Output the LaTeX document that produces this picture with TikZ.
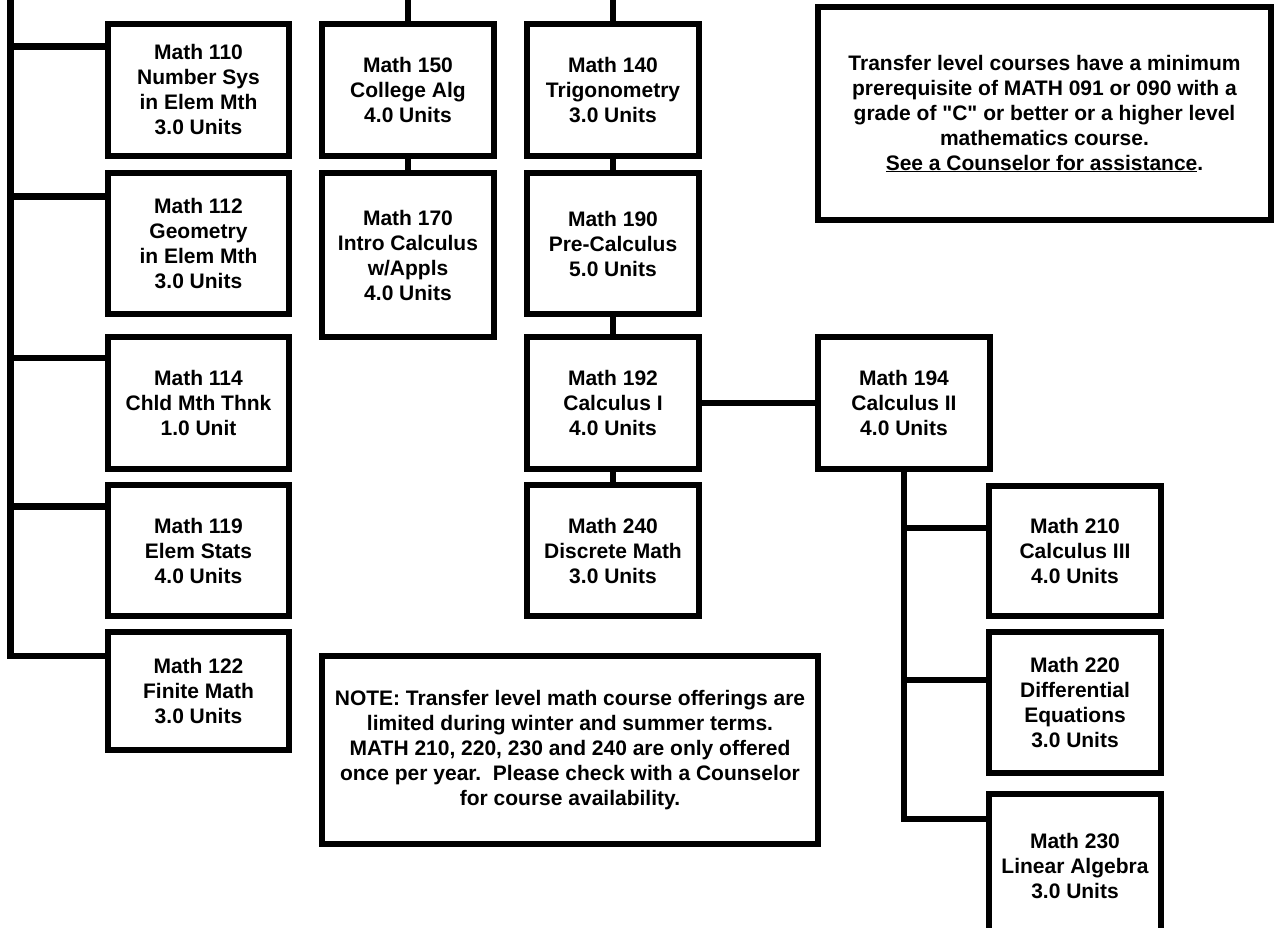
\documentclass[tikz,border=0pt]{standalone}
\usepackage{fontspec}
\setmainfont{Liberation Sans}
\usetikzlibrary{positioning}

\begin{document}
\begin{tikzpicture}[x=1pt,y=-1pt]
\tikzset{course/.style={draw, line width=6pt, inner sep=0pt, align=center, minimum width=172pt, minimum height=132pt, font=\fontsize{21}{25}\selectfont\bfseries}}
\tikzset{link/.style={line width=6.5pt, line join=miter}}

\clip (0,0) rectangle (1274,927);

% left column
\node[course, minimum width=181pt] (m110) at (198.5,90) {Math 110\\Number Sys\\in Elem Mth\\3.0 Units};
\node[course, minimum width=181pt, minimum height=141pt] (m112) at (198.5,243.5) {Math 112\\Geometry\\in Elem Mth\\3.0 Units};
\node[course, minimum width=181pt] (m114) at (198.5,403) {Math 114\\Chld Mth Thnk\\1.0 Unit};
\node[course, minimum width=181pt, minimum height=131pt] (m119) at (198.5,550.5) {Math 119\\Elem Stats\\4.0 Units};
\node[course, minimum width=181pt, minimum height=118pt] (m122) at (198.5,691) {Math 122\\Finite Math\\3.0 Units};

% algebra and calculus columns
\node[course] (m150) at (408,90) {Math 150\\College Alg\\4.0 Units};
\node[course, minimum height=164pt] (m170) at (408,255) {Math 170\\Intro Calculus\\w/Appls\\4.0 Units};
\node[course] (m140) at (613,90) {Math 140\\Trigonometry\\3.0 Units};
\node[course, minimum height=141pt] (m190) at (613,243.5) {Math 190\\Pre-Calculus\\5.0 Units};
\node[course] (m192) at (613,403) {Math 192\\Calculus I\\4.0 Units};
\node[course, minimum height=131pt] (m240) at (613,550.5) {Math 240\\Discrete Math\\3.0 Units};
\node[course] (m194) at (904,403) {Math 194\\Calculus II\\4.0 Units};
\node[course, minimum height=130pt] (m210) at (1075,551) {Math 210\\Calculus III\\4.0 Units};
\node[course, minimum height=141pt] (m220) at (1075,702.5) {Math 220\\Differential\\Equations\\3.0 Units};
\node[course, minimum height=144pt] (m230) at (1075,866) {Math 230\\Linear Algebra\\3.0 Units};

% notes
\node[course, minimum width=453pt, minimum height=213pt] (transfer) at (1044.5,113.5) {Transfer level courses have a minimum\\prerequisite of MATH 091 or 090 with a\\grade of \textquotedbl C\textquotedbl{} or better or a higher level\\mathematics course.\\\underline{See a Counselor for assistance}.};
\node[course, minimum width=496pt, minimum height=188pt] (note) at (570,750) {NOTE: Transfer level math course offerings are\\limited during winter and summer terms.\\MATH 210, 220, 230 and 240 are only offered\\once per year.\ \ Please check with a Counselor\\for course availability.};

% trunk on the left
\coordinate (t0) at (10.5,0);
\coordinate (t110) at (10.5,46.5);
\coordinate (t112) at (10.5,196.5);
\coordinate (t114) at (10.5,358);
\coordinate (t119) at (10.5,506.5);
\coordinate (t122) at (10.5,656);
\draw[link] (t0) -- (t122) -- (t122 -| m122.west);
\foreach \c in {110,112,114,119}
  \draw[link] (t\c) -- (t\c -| m\c.west);

% stubs from above
\coordinate (top150) at (408,0);
\coordinate (top140) at (613,0);
\draw[link] (top150) -- (m150);
\draw[link] (top140) -- (m140);
\draw[link] (m150) -- (m170);
\draw[link] (m140) -- (m190);
\draw[link] (m190) -- (m192);
\draw[link] (m192) -- (m240);
\draw[link] (m192) -- (m194);

% branch below Math 194
\coordinate (b210) at (904,528);
\coordinate (b220) at (904,680);
\coordinate (b230) at (904,819);
\draw[link] (m194) -- (b230) -- (b230 -| m230.west);
\draw[link] (b210) -- (b210 -| m210.west);
\draw[link] (b220) -- (b220 -| m220.west);
\end{tikzpicture}
\end{document}
